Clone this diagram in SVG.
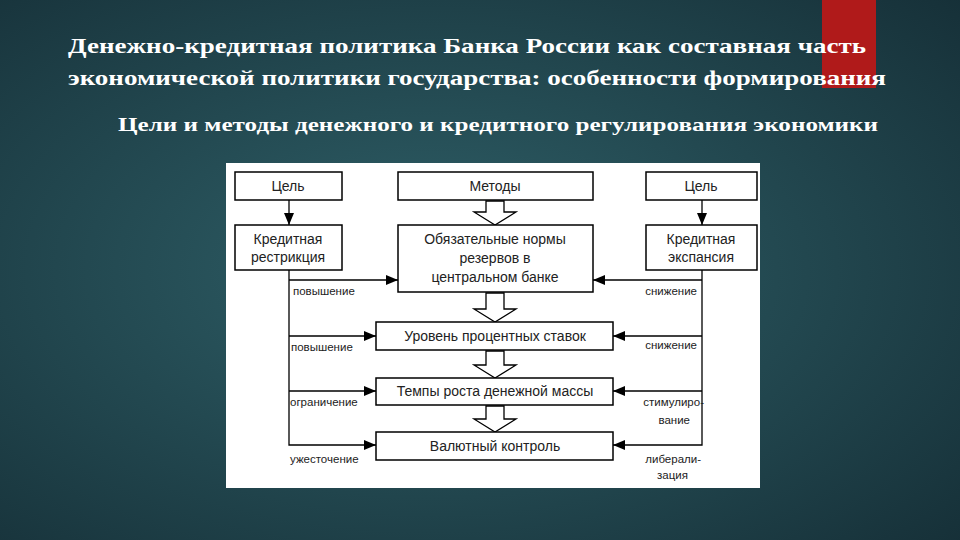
<svg xmlns="http://www.w3.org/2000/svg" width="960" height="540" viewBox="0 0 960 540">
<defs>
<radialGradient id="bg" cx="0.45" cy="0.5" r="0.75">
<stop offset="0" stop-color="#2f6068"/><stop offset="1" stop-color="#163038"/>
</radialGradient>
<marker id="ah" markerWidth="12" markerHeight="10" refX="12" refY="5" orient="auto" markerUnits="userSpaceOnUse"><path d="M0,0 L12,5 L0,10 Z" fill="#000"/></marker>
<style>
.t{font-family:"Liberation Serif",serif;font-weight:bold;fill:#fff}
.b{fill:#fff;stroke:#000;stroke-width:1.5}
.l{font-family:"Liberation Sans",Arial,sans-serif;font-size:14px;fill:#222;text-anchor:middle}
.s{font-family:"Liberation Sans",Arial,sans-serif;font-size:11.5px;fill:#222}
.c{stroke:#000;stroke-width:1.3;fill:none}
.h{fill:#fff;stroke:#000;stroke-width:1.3}
</style>
</defs>
<rect width="960" height="540" fill="url(#bg)"/>
<rect x="822" y="0" width="54" height="88" fill="#b01a1a"/>
<text class="t" x="68" y="53" font-size="21" textLength="798" lengthAdjust="spacingAndGlyphs">Денежно-кредитная политика Банка России как составная часть</text>
<text class="t" x="68" y="85" font-size="21" textLength="818" lengthAdjust="spacingAndGlyphs">экономической политики государства: особенности формирования</text>
<text class="t" x="118" y="131" font-size="19" textLength="760" lengthAdjust="spacingAndGlyphs">Цели и методы денежного и кредитного регулирования экономики</text>
<rect x="226" y="163" width="534" height="325" fill="#fff"/>
<g id="connectors">
<path class="c" d="M289,200 V225" marker-end="url(#ah)"/>
<path class="c" d="M702,200 V225" marker-end="url(#ah)" />
<path class="c" d="M289,270 V445 H376" marker-end="url(#ah)"/>
<path class="c" d="M289,280 H398" marker-end="url(#ah)"/>
<path class="c" d="M289,336 H376" marker-end="url(#ah)"/>
<path class="c" d="M289,391 H376" marker-end="url(#ah)"/>
<path class="c" d="M702,270 V445 H613" marker-end="url(#ah)"/>
<path class="c" d="M702,280 H593" marker-end="url(#ah)"/>
<path class="c" d="M702,336 H613" marker-end="url(#ah)"/>
<path class="c" d="M702,391 H613" marker-end="url(#ah)"/>
<path class="h" d="M486,201 H504 V212 H516 L495,225 L474,212 H486 Z"/>
<path class="h" d="M486,293 H504 V309 H516 L495,322 L474,309 H486 Z"/>
<path class="h" d="M486,351 H504 V365 H516 L495,378 L474,365 H486 Z"/>
<path class="h" d="M486,406 H504 V419 H516 L495,432 L474,419 H486 Z"/>
<text class="s" x="293" y="295">повышение</text>
<text class="s" x="291" y="351">повышение</text>
<text class="s" x="290" y="406">ограничение</text>
<text class="s" x="290" y="463">ужесточение</text>
<text class="s" x="697" y="295" text-anchor="end">снижение</text>
<text class="s" x="697" y="349" text-anchor="end">снижение</text>
<text class="s" x="704" y="406" text-anchor="end">стимулиро-</text>
<text class="s" x="690" y="424" text-anchor="end">вание</text>
<text class="s" x="701" y="463" text-anchor="end">либерали-</text>
<text class="s" x="688" y="479" text-anchor="end">зация</text>
</g>
<g id="goal-left"><rect class="b" x="235" y="172" width="107" height="28"/><text class="l" x="288" y="191">Цель</text></g>
<g id="methods"><rect class="b" x="398" y="172" width="195" height="28"/><text class="l" x="495" y="191">Методы</text></g>
<g id="goal-right"><rect class="b" x="646" y="172" width="111" height="28"/><text class="l" x="701" y="191">Цель</text></g>
<g id="restriction"><rect class="b" x="235" y="225" width="107" height="45"/><text class="l" x="288" y="244">Кредитная</text><text class="l" x="288" y="262">рестрикция</text></g>
<g id="reserves"><rect class="b" x="398" y="225" width="195" height="67"/><text class="l" x="495" y="244">Обязательные нормы</text><text class="l" x="495" y="263">резервов в</text><text class="l" x="495" y="282">центральном банке</text></g>
<g id="expansion"><rect class="b" x="646" y="225" width="111" height="45"/><text class="l" x="701" y="244">Кредитная</text><text class="l" x="701" y="262">экспансия</text></g>
<g id="rates"><rect class="b" x="376" y="322" width="237" height="28"/><text class="l" x="495" y="341">Уровень процентных ставок</text></g>
<g id="money"><rect class="b" x="376" y="378" width="237" height="27"/><text class="l" x="495" y="396">Темпы роста денежной массы</text></g>
<g id="fx"><rect class="b" x="376" y="432" width="237" height="28"/><text class="l" x="495" y="451">Валютный контроль</text></g>
</svg>
